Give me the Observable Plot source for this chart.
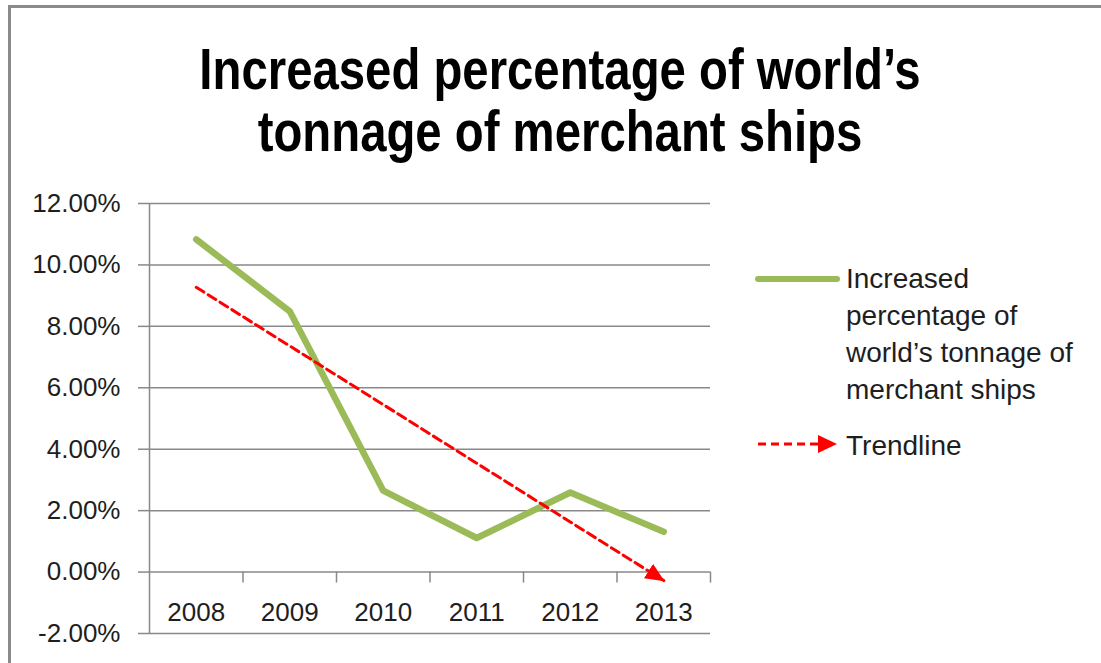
<!DOCTYPE html>
<html>
<head>
<meta charset="utf-8">
<script src="https://cdn.jsdelivr.net/npm/d3@7"></script>
<script src="https://cdn.jsdelivr.net/npm/@observablehq/plot@0.6"></script>
<style>
  html, body { margin: 0; padding: 0; background: #fff; width: 1101px; height: 663px; overflow: hidden; }
  #frame { position: absolute; left: 8px; top: 5px; width: 1120px; height: 720px; border: 3px solid #8a8a8a; box-sizing: border-box; }
  #title { position: absolute; left: 0; top: 38px; width: 1120px; text-align: center;
           font: bold 57px "Liberation Sans", sans-serif; line-height: 62px; color: #000;
           transform: scaleX(0.83); transform-origin: 560px 0; }
  #chart { position: absolute; left: 0; top: 180px; }
  .lg { position: absolute; font: 28px "Liberation Sans", sans-serif; line-height: 37px; color: #1e1e1e; }
  .sw { position: absolute; }
</style>
</head>
<body>
<div id="frame"></div>
<div id="title"></div>
<div id="chart"></div>
<div id="legend"></div>
<script>
const titleLines = ["Increased percentage of world’s", "tonnage of merchant ships"];
const seriesName = "Increased percentage of world’s tonnage of merchant ships";
const trendName = "Trendline";
const years = ["2008", "2009", "2010", "2011", "2012", "2013"];
const values = [0.1083, 0.0849, 0.0265, 0.0111, 0.0259, 0.0131];
const yTicks = [-0.02, 0, 0.02, 0.04, 0.06, 0.08, 0.10, 0.12];
const seriesColor = "#9bbb59";
const trendColor = "#ff0000";

document.getElementById("title").innerHTML = titleLines.join("<br>");

const n = years.length;
const pts = years.map((yr, i) => ({pos: i + 0.5, value: values[i], year: yr}));
const mx = d3.mean(pts, d => d.pos), my = d3.mean(pts, d => d.value);
const slope = d3.sum(pts, d => (d.pos - mx) * (d.value - my)) / d3.sum(pts, d => (d.pos - mx) ** 2);
const trend = [pts[0], pts[n - 1]].map(d => ({pos: d.pos, value: my + slope * (d.pos - mx)}));
const centers = pts.map(d => d.pos);
const bounds = d3.range(1, n + 1);
const fmt = d => (d * 100).toFixed(2) + "%";
const grid = "#898989";

const svg = Plot.plot({
  width: 1101, height: 483,
  marginLeft: 149, marginRight: 391, marginTop: 23, marginBottom: 30,
  style: {fontFamily: "Liberation Sans, sans-serif", fontSize: "26px", color: "#1e1e1e", background: "transparent", overflow: "visible"},
  x: {type: "linear", domain: [0, n]},
  y: {domain: [-0.02, 0.12]},
  marks: [
    Plot.ruleY(yTicks, {stroke: grid, strokeWidth: 1.5}),
    Plot.ruleX([0], {stroke: grid, strokeWidth: 1.5}),
    Plot.ruleX(bounds, {x: d => d, y1: 0, y2: 0, insetBottom: -11, stroke: grid, strokeWidth: 1.5}),
    Plot.axisY(yTicks, {tickSize: 11, tickPadding: 18, tickFormat: fmt, stroke: grid, strokeWidth: 1.5, fill: "#1e1e1e", label: null}),
    Plot.axisX(centers, {anchor: "bottom", tickSize: 0, tickPadding: 0, lineAnchor: "middle", dy: -21,
      tickFormat: d => years[Math.floor(d)], fill: "#1e1e1e", label: null}),
    Plot.line(pts, {x: "pos", y: "value", stroke: seriesColor, strokeWidth: 6.5, strokeLinecap: "round", strokeLinejoin: "round"}),
    Plot.line(trend, {x: "pos", y: "value", stroke: trendColor, strokeWidth: 3, strokeDasharray: "9,5"})
  ]
});

// filled arrowhead at the end of the trendline
const NS = "http://www.w3.org/2000/svg";
const defs = document.createElementNS(NS, "defs");
defs.innerHTML = `<marker id="trendArrow" markerUnits="userSpaceOnUse" viewBox="0 0 19 17" refX="18" refY="8.5" markerWidth="19" markerHeight="17" orient="auto"><path d="M0,0L19,8.5L0,17Z" fill="${trendColor}"/></marker>`;
svg.insertBefore(defs, svg.firstChild);
svg.querySelectorAll(`g[stroke="${trendColor}"] path`).forEach(p => p.setAttribute("marker-end", "url(#trendArrow)"));
document.getElementById("chart").appendChild(svg);

// legend
const legend = document.getElementById("legend");
legend.innerHTML = `
  <svg class="sw" style="left:752px;top:270px" width="92" height="18">
    <line x1="6" y1="9" x2="85" y2="9" stroke="${seriesColor}" stroke-width="6" stroke-linecap="round"/>
  </svg>
  <div class="lg" style="left:846px;top:260px;width:245px">${seriesName}</div>
  <svg class="sw" style="left:752px;top:432px" width="92" height="24">
    <line x1="6" y1="12" x2="68" y2="12" stroke="${trendColor}" stroke-width="3" stroke-dasharray="8,5"/>
    <path d="M66,3L85,12L66,21Z" fill="${trendColor}"/>
  </svg>
  <div class="lg" style="left:846px;top:427px">${trendName}</div>`;
</script>
</body>
</html>
